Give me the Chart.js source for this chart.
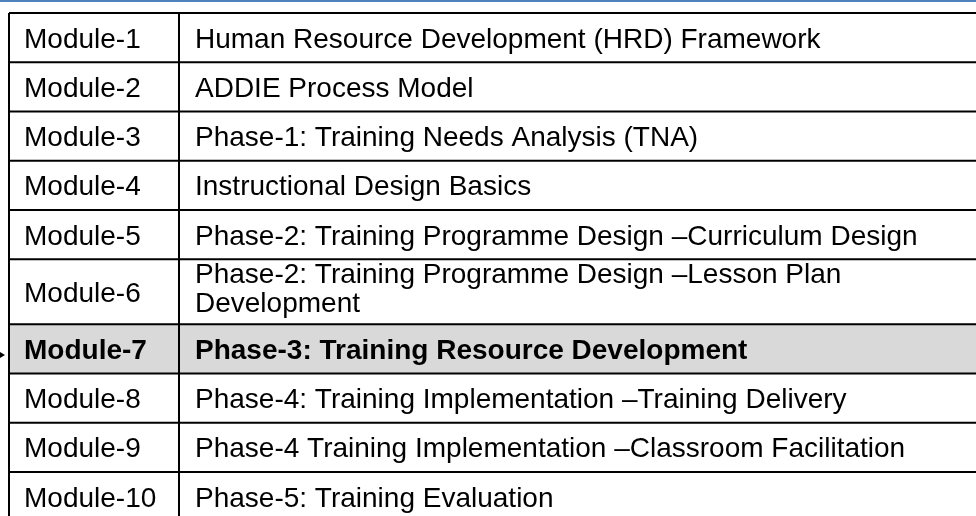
<!DOCTYPE html>
<html>
<head>
<meta charset="utf-8">
<script src="https://cdn.jsdelivr.net/npm/chart.js@4"></script>
<style>
  body { margin: 0; background: #fff; }
  #wrap { width: 976px; height: 516px; position: relative; }
</style>
</head>
<body>
<div id="wrap"><canvas id="myChart"></canvas></div>
<script>
// table content
const modules = ['Module-1', 'Module-2', 'Module-3', 'Module-4', 'Module-5',
                 'Module-6', 'Module-7', 'Module-8', 'Module-9', 'Module-10'];
const topics = [
    'Human Resource Development (HRD) Framework',
    'ADDIE Process Model',
    'Phase-1: Training Needs Analysis (TNA)',
    'Instructional Design Basics',
    'Phase-2: Training Programme Design \u2013Curriculum Design',
    'Phase-2: Training Programme Design \u2013Lesson Plan Development',
    'Phase-3: Training Resource Development',
    'Phase-4: Training Implementation \u2013Training Delivery',
    'Phase-4 Training Implementation \u2013Classroom Facilitation',
    'Phase-5: Training Evaluation'
];
const currentModule = 'Module-7';

const fontFamily = '"Liberation Sans", Arial, sans-serif';
const fontSize = 28;
const lineHeight = 29;
const rowUnit = 49.25;       // px of one single-line row
const colEdges = [9, 179];   // left border, column divider (x scale units)
const textWidth = 760;

const fontFor = bold => (bold ? 'bold ' : '') + fontSize + 'px ' + fontFamily;

const measure = document.createElement('canvas').getContext('2d');
const wrapText = function(text, bold) {
    measure.font = fontFor(bold);
    let words = text.split(' ');
    let lines = [];
    let cur = '';
    words.forEach(function(w) {
        let test = cur ? cur + ' ' + w : w;
        if (cur && measure.measureText(test).width > textWidth) {
            lines.push(cur);
            cur = w;
        } else {
            cur = test;
        }
    });
    lines.push(cur);
    return lines;
}

// build rows, each with its span in row units
let rows = [];
let bounds = [0];
modules.forEach(function(m, i) {
    let bold = m === currentModule;
    let lines = wrapText(topics[i], bold);
    let span = lines.length === 1 ? 1 : (lines.length * lineHeight + 7) / rowUnit;
    let top = bounds[bounds.length - 1];
    rows.push({module: m, lines: lines, bold: bold, top: top, bottom: top + span});
    bounds.push(top + span);
});

const yMin = -13 / rowUnit;
const yMax = yMin + 516 / rowUnit;

// grid rules as line datasets
let datasets = [];
bounds.forEach(function(b) {
    datasets.push({data: [{x: colEdges[0], y: b}, {x: 1000, y: b}]});
});
colEdges.forEach(function(x) {
    datasets.push({data: [{x: x, y: 0}, {x: x, y: bounds[bounds.length - 1]}]});
});
datasets = datasets.map(d => Object.assign(d, {
    showLine: true, borderColor: '#000', borderWidth: 2, pointRadius: 0, fill: false
}));

const tablePlugin = {
    id: 'tablePlugin',
    beforeDatasetsDraw(chart) {
        const c = chart.ctx, xs = chart.scales.x, ys = chart.scales.y;
        c.save();
        // header strip
        c.fillStyle = '#4f81bd';
        c.fillRect(chart.chartArea.left, chart.chartArea.top, chart.chartArea.right, 2);
        // highlighted row
        rows.forEach(function(r) {
            if (!r.bold) return;
            let y0 = ys.getPixelForValue(r.top), y1 = ys.getPixelForValue(r.bottom);
            let x0 = xs.getPixelForValue(colEdges[0]);
            c.fillStyle = '#d9d9d9';
            c.fillRect(x0, y0, chart.chartArea.right - x0, y1 - y0);
        });
        c.restore();
    },
    afterDatasetsDraw(chart) {
        const c = chart.ctx, xs = chart.scales.x, ys = chart.scales.y;
        c.save();
        c.fillStyle = '#000';
        c.textBaseline = 'alphabetic';
        rows.forEach(function(r) {
            c.font = fontFor(r.bold);
            let mid = (ys.getPixelForValue(r.top) + ys.getPixelForValue(r.bottom)) / 2;
            let base = mid + fontSize * 0.36;
            c.fillText(r.module, xs.getPixelForValue(colEdges[0]) + 15, base);
            let first = base - (r.lines.length - 1) * lineHeight / 2;
            if (r.lines.length > 1) first -= 4;
            r.lines.forEach(function(line, k) {
                c.fillText(line, xs.getPixelForValue(colEdges[1]) + 16, first + k * lineHeight);
            });
            if (r.bold) {
                // pointer arrow left of the current module
                let ay = mid + 6;
                c.beginPath();
                c.moveTo(0, ay - 3);
                c.lineTo(5, ay);
                c.lineTo(0, ay + 3);
                c.closePath();
                c.fill();
            }
        });
        c.restore();
    }
};

var ctx = document.getElementById('myChart').getContext('2d');
var chart = new Chart(ctx, {
    type: 'scatter',
    data: {datasets: datasets},
    options: {
        responsive: true,
        maintainAspectRatio: false,
        animation: false,
        events: [],
        layout: {padding: 0},
        scales: {
            x: {type: 'linear', min: 0, max: 976, display: false},
            y: {type: 'linear', min: yMin, max: yMax, reverse: true, display: false}
        },
        plugins: {legend: {display: false}, tooltip: {enabled: false}}
    },
    plugins: [tablePlugin]
});
</script>
</body>
</html>
